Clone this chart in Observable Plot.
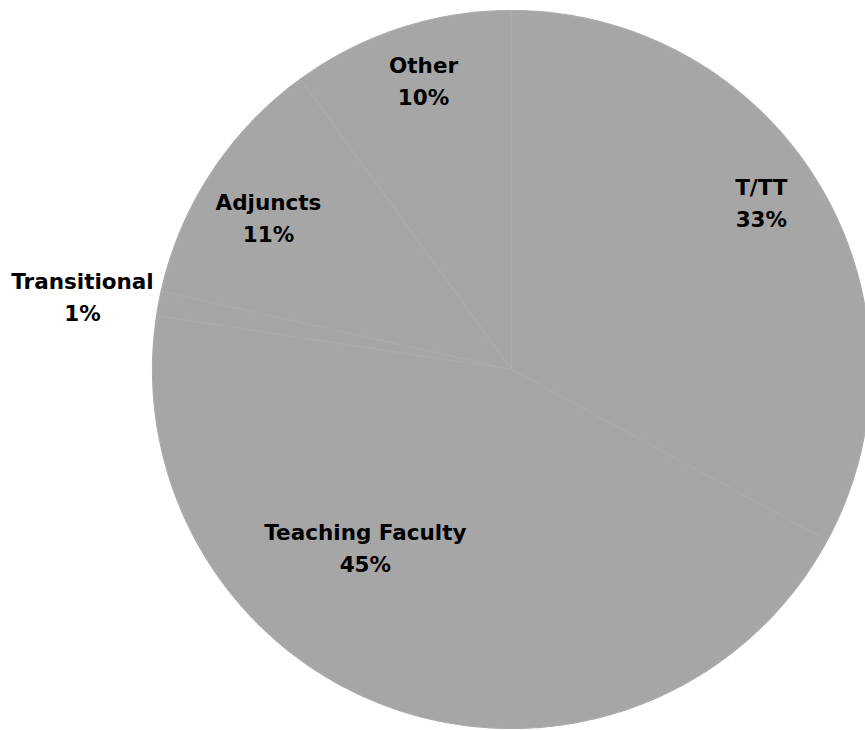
<!DOCTYPE html>
<html>
<head>
<meta charset="utf-8">
<script src="https://cdn.jsdelivr.net/npm/d3@7"></script>
<script src="https://cdn.jsdelivr.net/npm/@observablehq/plot@0.6"></script>
<style>
  html, body { margin: 0; padding: 0; background: #ffffff; }
  #chart svg { display: block; }
  #chart g[aria-label="line"] { filter: blur(0.7px); }
</style>
</head>
<body>
<div id="chart"></div>
<script>
// ---- data ----
const categories = ["T/TT", "Teaching Faculty", "Transitional", "Adjuncts", "Other"];
const shares = [32.9, 44.5, 1.1, 11.5, 10.0];
const pctLabels = ["33%", "45%", "1%", "11%", "10%"];

// ---- layout (kept apart from the data) ----
const W = 865, H = 730;
const cx = 511, cy = 369, R = 359;          // pie centre and radius in pixels
// label anchors in pie-radius units (x right, y down), per category
const labelAnchor = {
  "T/TT": [0.696, -0.469],
  "Teaching Faculty": [-0.407, 0.492],
  "Transitional": [-1.195, -0.207],
  "Adjuncts": [-0.677, -0.427],
  "Other": [-0.245, -0.811]
};

const table = categories.map((c, i) => ({category: c, share: shares[i], pct: pctLabels[i]}));
const arcs = d3.pie().value(d => d.share).sort(null).startAngle(0).endAngle(2 * Math.PI)(table);

// slice outlines: centre + arc vertices (angle measured clockwise from 12 o'clock)
const outline = [];
for (const a of arcs) {
  const name = a.data.category;
  outline.push({category: name, x: 0, y: 0});
  const steps = Math.max(2, Math.ceil((a.endAngle - a.startAngle) / (Math.PI / 360)));
  for (let k = 0; k <= steps; k++) {
    const t = a.startAngle + (a.endAngle - a.startAngle) * k / steps;
    outline.push({category: name, x: Math.sin(t), y: -Math.cos(t)});
  }
}

const labels = table.map(d => ({
  text: d.category + "\n" + d.pct,
  x: labelAnchor[d.category][0],
  y: labelAnchor[d.category][1]
}));

const chart = Plot.plot({
  width: W,
  height: H,
  margin: 0,
  style: {background: "#ffffff", overflow: "visible"},
  x: {domain: [-cx / R, (W - cx) / R], range: [0, W], axis: null},
  y: {domain: [-cy / R, (H - cy) / R], range: [0, H], axis: null},
  marks: [
    Plot.line(outline, {
      x: "x", y: "y", z: "category",
      curve: "linear-closed",
      fill: "#a6a6a6",
      stroke: "#acacac",
      strokeWidth: 1.2,
      strokeLinejoin: "round"
    }),
    Plot.text(labels, {
      x: "x", y: "y", text: "text",
      fontFamily: "DejaVu Sans",
      fontWeight: "bold",
      fontSize: 21.5,
      lineHeight: 1.49,
      fill: "#000000",
      textAnchor: "middle"
    })
  ]
});

document.getElementById("chart").appendChild(chart);
</script>
</body>
</html>
